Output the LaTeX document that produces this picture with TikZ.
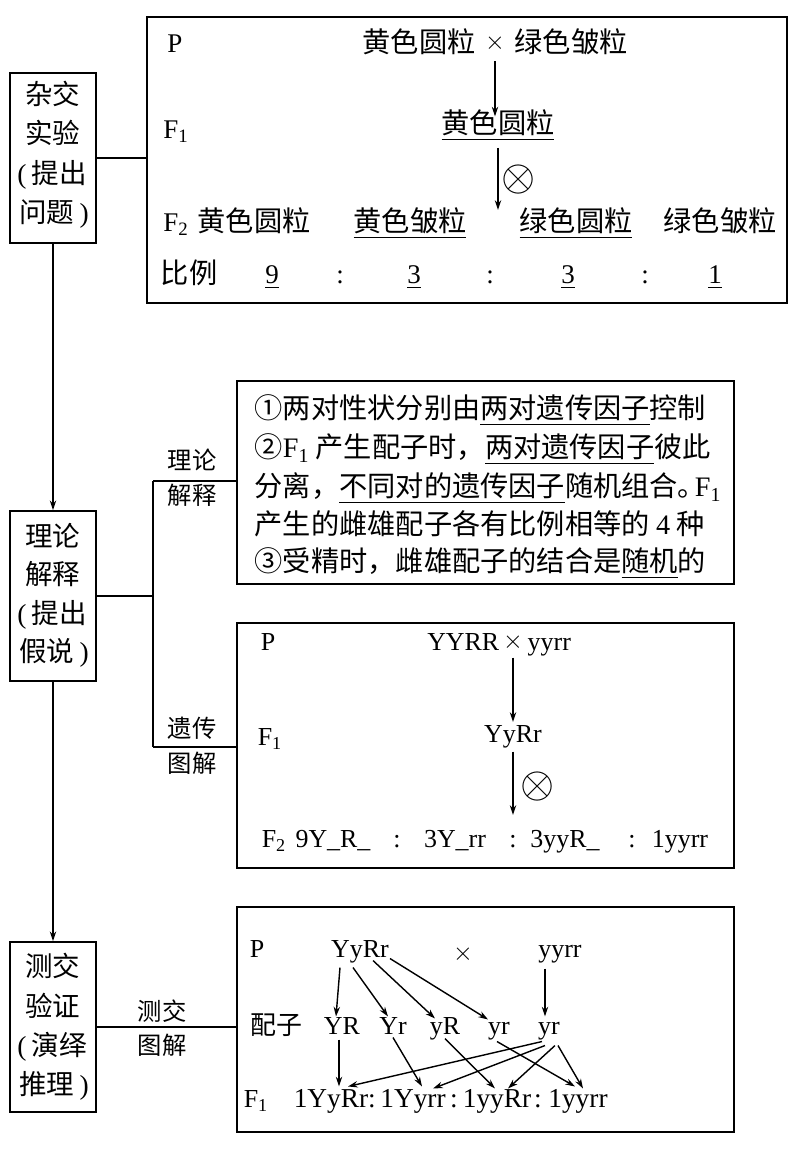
\documentclass[tikz,border=0pt]{standalone}
\usepackage{fontspec}
\setmainfont{Liberation Serif}
\newfontfamily\zh{Noto Sans CJK SC}
\usetikzlibrary{arrows.meta,calc,fit}
\newcommand\la[1]{{\rmfamily #1}}
\newcommand\ul[1]{\vtop{\hbox{#1}\kern1.5pt\hrule height0.8pt}}
\newcommand\fs[1]{\fontsize{#1}{#1}\selectfont}
\begin{document}
\begin{tikzpicture}[x=0.567pt,y=-0.567pt,line width=0.8pt,
  >={Stealth[length=5.5pt,width=3.6pt]},
  tbase/.style={inner sep=0pt,text height=0.95em,text depth=0.05em},
  zhA/.style={tbase,font=\zh\fs{16}},
  laA/.style={tbase,font=\rmfamily\fs{15.3}},
  zhT/.style={tbase,font=\zh\fs{16},anchor=west},
  laB/.style={tbase,font=\rmfamily\fs{14.7}},
  laD/.style={tbase,font=\rmfamily\fs{15.5}},
  zhC/.style={tbase,font=\zh\fs{14.7}},
  lab/.style={tbase,font=\zh\fs{13.8}},
  lt/.style={tbase,font=\zh\fs{15.6}},
  otm/.style={inner sep=0pt,font=\fs{24}},
  lbox/.style={draw,line width=1pt,inner sep=0pt},
  bigbox/.style={draw,line width=1pt,inner sep=0pt}]
\useasboundingbox (0,0) rectangle (796,1167);
\fill[white] (0,0) rectangle (796,1167);

% left column boxes
\node[lbox,fit={(10,73)(96,243)}] (b1) {};
\node[lt] (b1a) at (53,97) {杂交};
\node[lt] (b1b) at (53,136) {实验};
\node[lt] (b1c) at (52,176) {\la{(}\hspace{3pt}提出};
\node[lt] (b1d) at (54,215) {问题\hspace{3pt}\la{)}};
\node[lbox,fit={(10,511)(96,681)}] (b2) {};
\node[lt] (b2a) at (53,539) {理论};
\node[lt] (b2b) at (53,577) {解释};
\node[lt] (b2c) at (52,616) {\la{(}\hspace{3pt}提出};
\node[lt] (b2d) at (54,654) {假说\hspace{3pt}\la{)}};
\node[lbox,fit={(10,942)(96,1112)}] (b3) {};
\node[lt] (b3a) at (53,969) {测交};
\node[lt] (b3b) at (53,1009) {验证};
\node[lt] (b3c) at (52,1048) {\la{(}\hspace{3pt}演绎};
\node[lt] (b3d) at (54,1087) {推理\hspace{3pt}\la{)}};

% big boxes
\node[bigbox,fit={(147,17)(787,303)}] (top) {};
\node[bigbox,fit={(237,381)(734,584)}] (txt) {};
\node[bigbox,fit={(237,623)(734,868)}] (gen) {};
\node[bigbox,fit={(237,907)(734,1132)}] (cross) {};

% left connectors
\draw (b1.east) -- (b1.east -| top.west);
\draw[->] (b1.south) -- (b2.north);
\draw[->] (b2.south) -- (b3.north);
\coordinate (j1) at (153,481);
\coordinate (j2) at (153,747);
\draw (b2.east) -- (b2.east -| j1);
\draw (j1) -- (j2);
\draw (j1) -- (j1 -| txt.west);
\draw (j2) -- (j2 -| gen.west);
\draw (b3.east) -- (b3.east -| cross.west);

\node[lab] (l1) at (192,462) {理论};
\node[lab] (l2) at (192,497) {解释};
\node[lab] (l3) at (192,730) {遗传};
\node[lab] (l4) at (192,765) {图解};
\node[lab] (l5) at (162,1013) {测交};
\node[lab] (l6) at (162,1047) {图解};

% top box
\node[laA] (tP) at (175,45) {P};
\node[zhA] (tp1) at (419,45) {黄色圆粒};
\node[laA] (tx) at (495,42) {$\times$};
\node[zhA] (tp2) at (571,45) {绿色皱粒};
\node[laA] (tF1) at (176,131) {F\textsubscript{1}};
\node[zhA] (tf1) at (498,126) {\ul{黄色圆粒}};
\node[otm] (tot) at (519,180) {$\otimes$};
\coordinate (tend) at (498,210);
\draw[->,shorten <=5.5pt] (tx.south) -- (tx.south |- tf1.north);
\draw[->,shorten <=7pt] (tf1.south) -- (tend);
\node[laA] (tF2) at (176,224) {F\textsubscript{2}};
\node[zhA] (t21) at (254,224) {黄色圆粒};
\node[zhA] (t22) at (410,224) {\ul{黄色皱粒}};
\node[zhA] (t23) at (576,224) {\ul{绿色圆粒}};
\node[zhA] (t24) at (720,224) {绿色皱粒};
\node[zhA] (tbl) at (189,276) {比例};
\node[laA] (r1) at (272,276) {\ul{9}};
\node[laA] (r2) at (340,276) {:};
\node[laA] (r3) at (414,276) {\ul{3}};
\node[laA] (r4) at (490,276) {:};
\node[laA] (r5) at (568,276) {\ul{3}};
\node[laA] (r6) at (645,276) {:};
\node[laA] (r7) at (715,276) {\ul{1}};

% text box
\node[zhT] (x1) at (254,411) {①两对性状分别由\ul{两对遗传因子}控制};
\node[zhT] (x2) at (254,450) {②\la{F\textsubscript{1}} 产生配子时，\ul{两对遗传因子}彼此};
\node[zhT] (x3) at (254,489) {分离，\ul{不同对的遗传因子}随机组合\makebox[0.6em][l]{。}\la{F\textsubscript{1}}};
\node[zhT] (x4) at (254,527) {产生的雌雄配子各有比例相等的 \la{4} 种};
\node[zhT] (x5) at (254,564) {③受精时，雌雄配子的结合是\ul{随机}的};

% genetic diagram box
\node[laB] (gP) at (268,643) {P};
\node[laB,anchor=east] (gYY) at (500,643) {YYRR};
\node[laB] (gx) at (513,641) {$\times$};
\node[laB,anchor=west] (gyy) at (527,643) {yyrr};
\node[laB] (gF1) at (270,738) {F\textsubscript{1}};
\node[laB] (gf1) at (513,735) {YyRr};
\node[otm] (got) at (538,787) {$\otimes$};
\coordinate (gend) at (513,815);
\draw[->,shorten <=4pt,shorten >=2pt] (gx.south) -- (gf1.north);
\draw[->,shorten <=4pt] (gf1.south) -- (gend);
\node[laB] (gF2) at (274,840) {F\textsubscript{2}};
\node[laB] (h1) at (333,840) {9Y\_R\_};
\node[laB] (h2) at (397,840) {:};
\node[laB] (h3) at (455,840) {3Y\_rr};
\node[laB] (h4) at (513,840) {:};
\node[laB] (h5) at (565,840) {3yyR\_};
\node[laB] (h6) at (632,840) {:};
\node[laB] (h7) at (680,840) {1yyrr};

% test cross box
\node[laB] (cP) at (257,950) {P};
\node[laB] (cp1) at (360,950) {YyRr};
\node[laB] (cx) at (463,953) {$\times$};
\node[laB] (cp2) at (560,950) {yyrr};
\node[zhC] (cg) at (276,1027) {配子};
\node[laB] (g1) at (342,1027) {YR};
\node[laB] (g2) at (393,1027) {Yr};
\node[laB] (g3) at (445,1027) {yR};
\node[laB] (g4) at (499,1027) {yr};
\node[laB] (g5) at (549,1027) {yr};
\node[laB] (cF1) at (256,1100) {F\textsubscript{1}};
\node[laD] (o1) at (331,1100) {1YyRr};
\node[laD] (k1) at (372,1100) {:};
\node[laD] (o2) at (413,1100) {1Yyrr};
\node[laD] (k2) at (454,1100) {:};
\node[laD] (o3) at (497,1100) {1yyRr};
\node[laD] (k3) at (538,1100) {:};
\node[laD] (o4) at (578,1100) {1yyrr};

\draw[->] ($(cp1.south)+(-20,8)$) -- ($(g1.north)+(-6,-1)$);
\draw[->] ($(cp1.south)+(-7,8)$) -- ($(g2.north)+(-5,-1)$);
\draw[->] ($(cp1.south)+(13,1)$) -- ($(g3.north)+(-10,1)$);
\draw[->] ($(cp1.south)+(30,-1)$) -- ($(g4.north)+(-11,2)$);
\draw[->] ($(cp2.south)+(-15,9)$) -- ($(g5.north)+(-4,-1)$);

\draw[->] ($(g1.south)+(-3,3)$) -- ($(o1.north)+(8,-4)$);
\draw[->] ($(g2.south)+(0,1)$) -- ($(o2.north)+(9,-4)$);
\draw[->] ($(g3.south)+(0,2)$) -- ($(o3.north)+(-2,-2)$);
\draw[->] ($(g4.south)+(-2,5)$) -- ($(o4.north)+(-3,-4)$);
\draw[->] ($(g5.south)+(-7,5)$) -- ($(o1.north)+(17,-4)$);
\draw[->] ($(g5.south)+(-4,9)$) -- ($(o2.north)+(20,-2)$);
\draw[->] ($(g5.south)+(6,9)$) -- ($(o3.north)+(11,-2)$);
\draw[->] ($(g5.south)+(9,9)$) -- ($(o4.north)+(5,-2)$);
\end{tikzpicture}
\end{document}
